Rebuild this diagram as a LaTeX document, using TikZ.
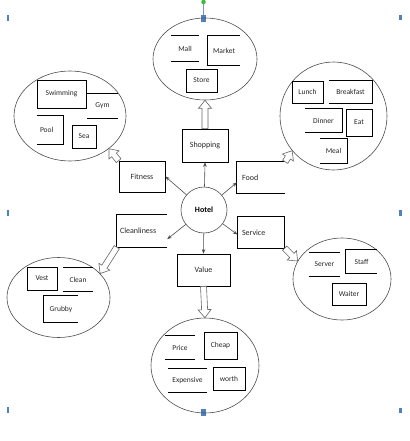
\documentclass[tikz,border=0pt]{standalone}
\usepackage{fontspec}
\setmainfont{Carlito}
\usetikzlibrary{shapes.geometric,arrows.meta,calc}
\newcommand\harrow[2]{%
  \coordinate (hP) at ($(#2)!8pt!(#1)$);
  \draw[fatline] ($(#1)!3pt!90:(#2)$) -- ($(hP)!3pt!90:(#2)$) -- ($(hP)!6.5pt!90:(#2)$) -- (#2)
     -- ($(hP)!6.5pt!-90:(#2)$) -- ($(hP)!3pt!-90:(#2)$) -- ($(#1)!3pt!-90:(#2)$) -- cycle;
}
\begin{document}
\begin{tikzpicture}[x=1pt,y=-1pt,
  lbl/.style={font=\fontsize{8}{9}\selectfont, text=black!85},
  sl/.style={font=\fontsize{7.5}{9}\selectfont, text=black!85},
  box/.style={draw=black, line width=0.7pt, inner sep=0pt},
  open/.style={inner sep=0pt},
  ell/.style={ellipse, draw=black!70, line width=0.6pt, inner sep=0pt},
  thin/.style={-{Stealth[length=4.5pt,width=3.5pt]}, draw=black!70, line width=0.6pt},
  fatline/.style={draw=black!60, fill=white, line width=0.6pt, line join=miter},
  side/.style={line width=0.7pt, draw=black},
  handle/.style={fill={rgb,255:red,79;green,129;blue,189}, draw=none}
]
\useasboundingbox (0,0) rectangle (409,441);

% selection handles
\fill[handle] (6.5,15) rectangle (9,21);
\fill[handle] (6.5,210) rectangle (9,216);
\fill[handle] (6.5,407) rectangle (9,413);
\fill[handle] (399,15.5) rectangle (401.5,20.5);
\fill[handle] (399,210) rectangle (401.5,216);
\fill[handle] (399,407.5) rectangle (401.5,412.5);
\draw[draw={rgb,255:red,120;green,150;blue,190}, line width=0.6pt] (203.5,2) -- (203.5,16);
\fill[fill={rgb,255:red,60;green,190;blue,60}] (203.5,2) circle (2.3);
\fill[handle] (201,15.5) rectangle (206,22);
\fill[handle] (201,409) rectangle (206,415.5);

% centre
\node[circle, draw=black!70, line width=0.6pt, minimum size=46, inner sep=0pt,
      font=\fontsize{8}{9}\selectfont\bfseries] (hotel) at (204,210) {Hotel};

% category boxes
\node[box, lbl, minimum width=46, minimum height=33] (shop) at (205,145.5) {Shopping};
\node[box, lbl, minimum width=46, minimum height=31] (fit) at (142,176.5) {Fitness};
\node[box, lbl, minimum width=53, minimum height=32] (val) at (203.5,270) {Value};
\node[open, lbl, text width=38, inner xsep=5, minimum height=31, align=left] (food) at (261,177.5) {Food};
\draw[side] (food.north east) -- (food.north west) -- (food.south west) -- (food.south east);
\node[open, lbl, text width=38, inner xsep=4.5, minimum height=31, align=left] (serv) at (261,232.5) {Service};
\draw[side] (serv.south east) -- (serv.north east) -- (serv.north west) -- (serv.south west) -- (serv.south east);
\node[open, lbl, text width=44, inner xsep=3, minimum height=32, align=left] (clean) at (142,231) {Cleanliness};
\draw[side] (clean.north east) -- (clean.north west) -- (clean.south west) -- (clean.south east);

% ellipses
\node[ell, minimum width=104, minimum height=82] (shopE) at (205,59) {};
\node[ell, minimum width=112, minimum height=90] (fitE) at (70,116) {};
\node[ell, minimum width=107, minimum height=108] (foodE) at (333.5,116) {};
\node[ell, minimum width=103, minimum height=80] (cleanE) at (58.5,297.5) {};
\node[ell, minimum width=98, minimum height=82] (servE) at (342,279) {};
\node[ell, minimum width=108, minimum height=95] (valE) at (205,365.5) {};

% arrows from hotel
\draw[thin] (hotel) -- (shop.south);
\draw[thin] (hotel) -- (fit.east);
\draw[thin] (hotel) -- ($(food.west)+(0,5)$);
\draw[thin] (hotel) -- ($(clean.east)!0.5!(clean.south east)$);
\draw[thin] (hotel) -- ($(serv.west)+(0,2)$);
\draw[thin] (hotel) -- (val.north);

% hollow arrows to ellipses
\harrow{shop.north}{shopE.south}
\harrow{fit.north west}{fitE.-40}
\harrow{food.north east}{foodE.-140}
\harrow{clean.south west}{cleanE.30}
\harrow{serv.south east}{servE.158}
\harrow{val.south}{valE.north}

% Shopping items
\node[open, sl, minimum width=28, minimum height=25] (mall) at (185,48.5) {Mall};
\draw[side] (mall.north west) -- (mall.north east) (mall.south west) -- (mall.south east);
\node[open, sl, minimum width=32, minimum height=29] (market) at (224,50.5) {Market};
\draw[side] (market.north east) -- (market.north west) -- (market.south west) -- (market.south east);
\node[box, sl, minimum width=31, minimum height=23] (store) at (201.5,80.5) {Store};

% Fitness items
\node[box, sl, minimum width=49, minimum height=28] (swim) at (61.5,94) {Swimming};
\node[open, sl, minimum width=31, minimum height=24] (gym) at (102.5,106) {Gym};
\draw[side] (gym.north west) -- (gym.north east) (gym.south west) -- (gym.south east);
\node[open, sl, text width=20, inner xsep=3, minimum height=28, align=left] (pool) at (50,130) {Pool};
\draw[side] (pool.north west) -- (pool.north east) -- (pool.south east) -- (pool.south west);
\node[box, sl, minimum width=24, minimum height=23] (sea) at (84,136.5) {Sea};

% Food items
\node[box, sl, minimum width=31, minimum height=22] (lunch) at (307.5,92) {Lunch};
\node[open, sl, minimum width=43, minimum height=22] (breakfast) at (350.5,92) {Breakfast};
\draw[side] (breakfast.north west) -- (breakfast.north east) -- (breakfast.south east) -- (breakfast.south west);
\node[open, sl, minimum width=37, minimum height=23] (dinner) at (323.5,120.5) {Dinner};
\draw[side] (dinner.north west) -- (dinner.north east) -- (dinner.south east) -- (dinner.south west);
\node[box, sl, minimum width=26, minimum height=27] (eat) at (359,122.5) {Eat};
\node[open, sl, minimum width=27, minimum height=24] (meal) at (333.5,151) {Meal};
\draw[side] (meal.north west) -- (meal.north east) -- (meal.south east) -- (meal.south west);

% Cleanliness items
\node[box, sl, minimum width=30, minimum height=23] (vest) at (42,278.5) {Vest};
\node[open, sl, minimum width=30, minimum height=23] (cleanw) at (78,279.5) {Clean};
\draw[side] (cleanw.north west) -- (cleanw.north east) (cleanw.south west) -- (cleanw.south east);
\node[open, sl, minimum width=34, minimum height=26] (grubby) at (61,309) {Grubby};
\draw[side] (grubby.north east) -- (grubby.north west) -- (grubby.south west) -- (grubby.south east);

% Service items
\node[open, sl, minimum width=31, minimum height=23] (server) at (324.5,264.5) {Server};
\draw[side] (server.north west) -- (server.north east) (server.south west) -- (server.south east);
\node[open, sl, minimum width=31, minimum height=23] (staff) at (361.5,261.5) {Staff};
\draw[side] (staff.north east) -- (staff.north west) -- (staff.south west) -- (staff.south east);
\node[box, sl, minimum width=34, minimum height=22] (waiter) at (349,294) {Waiter};

% Value items
\node[open, sl, minimum width=30, minimum height=23] (price) at (180,347.5) {Price};
\draw[side] (price.north west) -- (price.north east) (price.south west) -- (price.south east);
\node[box, sl, minimum width=33, minimum height=27] (cheap) at (220.5,345.5) {Cheap};
\node[open, sl, minimum width=39, minimum height=23] (expensive) at (187.5,380.5) {Expensive};
\draw[side] (expensive.north west) -- (expensive.north east) (expensive.south west) -- (expensive.south east);
\node[box, sl, minimum width=32, minimum height=23] (worth) at (229,378.5) {worth};
\end{tikzpicture}
\end{document}
